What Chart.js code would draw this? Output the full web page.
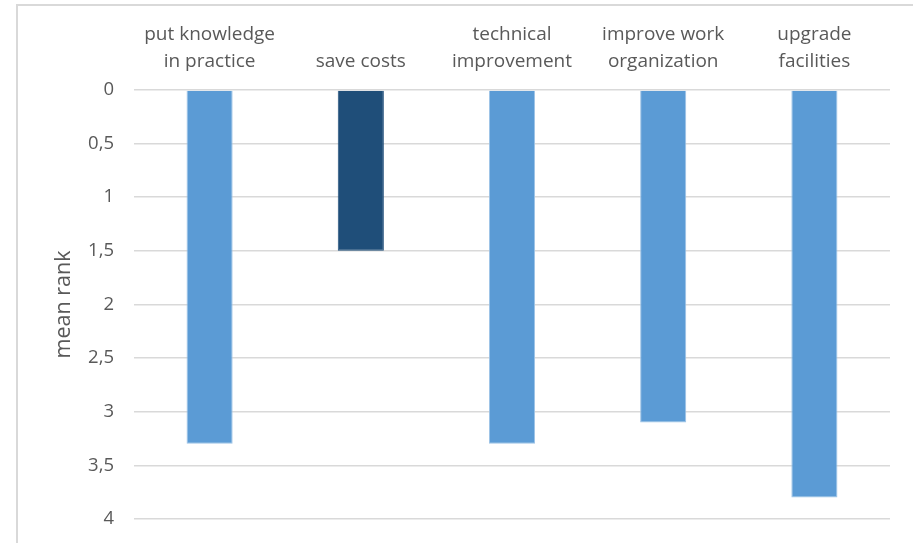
<!DOCTYPE html>
<html>
<head>
<meta charset="utf-8">
<script src="https://cdn.jsdelivr.net/npm/chart.js@4"></script>
<style>
  html, body { margin: 0; padding: 0; background: #fff; overflow: hidden; }
  #frame { position: absolute; left: 16px; top: 4px; width: 1000px; height: 1000px; border: 2px solid #d9d9d9; }
  #wrap { position: absolute; left: 0; top: 0; width: 913px; height: 550px; }
</style>
</head>
<body>
<div id="frame"></div>
<div id="wrap"><canvas id="rankChart"></canvas></div>
<script>
const categories = [
  ["put knowledge", "in practice"],
  "save costs",
  ["technical", "improvement"],
  ["improve work", "organization"],
  ["upgrade", "facilities"]
];
const meanRank = [3.3, 1.5, 3.3, 3.1, 3.8];
const yTicks = [0, 0.5, 1, 1.5, 2, 2.5, 3, 3.5, 4];
const highlightIndex = 1;

const ctx = document.getElementById("rankChart").getContext("2d");
const textColor = "#595959";
const fontFamily = "'Open Sans', sans-serif";

new Chart(ctx, {
  type: "bar",
  data: {
    labels: categories,
    datasets: [
      {
        data: meanRank,
        backgroundColor: (c) => (c.dataIndex === highlightIndex ? "#1f4e79" : "#5b9bd5"),
        borderColor: (c) => (c.dataIndex === highlightIndex ? "#1f4e79" : "#9dc3e6"),
        borderWidth: 1,
        categoryPercentage: 1,
        barPercentage: 0.305,
      },
    ],
  },
  options: {
    responsive: true,
    maintainAspectRatio: false,
    animation: false,
    layout: { padding: { left: 0, right: 23, top: 0, bottom: 19 } },
    plugins: {
      legend: { display: false },
      tooltip: { enabled: false },
    },
    scales: {
      x: {
        position: "top",
        grid: { display: false, drawTicks: false },
        border: { display: false },
        ticks: {
          color: textColor,
          font: { family: fontFamily, size: 19, lineHeight: 1.47 },
          padding: 14,
          maxRotation: 0,
          autoSkip: false,
        },
        afterFit: (scale) => { scale.height = 90; },
      },
      y: {
        reverse: true,
        min: 0,
        max: 4,
        afterBuildTicks: (scale) => { scale.ticks = yTicks.map((v) => ({ value: v })); },
        grid: { color: "#d9d9d9", lineWidth: 1.5, drawTicks: false },
        border: { display: false },
        ticks: {
          color: textColor,
          font: { family: fontFamily, size: 18.5 },
          padding: 20,
          callback: (v) => String(v).replace(".", ","),
        },
        title: {
          display: true,
          text: "mean rank",
          color: textColor,
          font: { family: fontFamily, size: 21.5 },
          padding: { top: 51, bottom: 0 },
        },
        afterFit: (scale) => { scale.width = 134; },
      },
    },
  },
});
</script>
</body>
</html>
